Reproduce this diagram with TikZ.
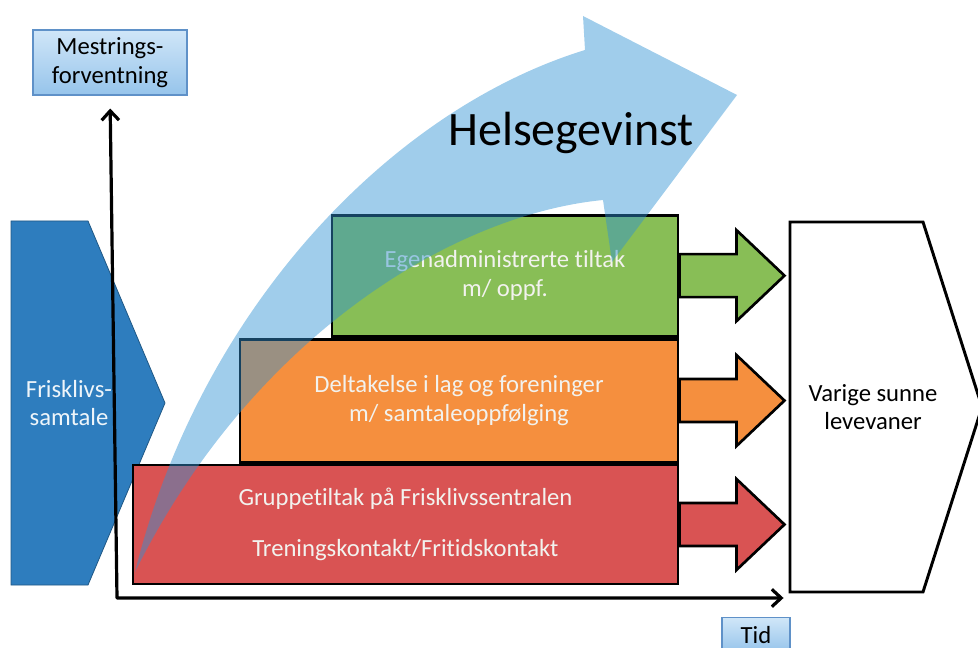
\documentclass[tikz,border=0pt]{standalone}
\usepackage{fontspec}
\setmainfont{Carlito}[Ligatures=NoCommon]
\usetikzlibrary{positioning,calc,arrows.meta}
\definecolor{frblue}{RGB}{46,125,190}
\definecolor{rbar}{RGB}{217,83,83}
\definecolor{obar}{RGB}{245,143,62}
\definecolor{gbar}{RGB}{136,190,86}
\definecolor{bartext}{RGB}{242,242,238}
\definecolor{gainblue}{RGB}{48,146,211}
\definecolor{lbltop}{RGB}{208,230,248}
\definecolor{lblbot}{RGB}{150,196,235}
\definecolor{lblborder}{RGB}{95,145,200}

\begin{document}
\begin{tikzpicture}[
    x=0.75pt, y=-0.75pt,
    every node/.style={font=\fontsize{18.5}{21.5}\selectfont},
    bar/.style={rectangle, draw=black, line width=2.2pt, text=bartext, align=center, inner sep=0pt},
    labelbox/.style={rectangle, draw=lblborder, line width=0.8pt, top color=lbltop, bottom color=lblbot, align=center},
    axis/.style={line width=2.4pt, line join=round, {Straight Barb[length=7pt,width=13pt]}-{Straight Barb[length=7pt,width=13pt]}},
    fatarrow/.style={draw=black, line width=2pt},
    gain/.style={fill=gainblue, fill opacity=0.46},
]
\useasboundingbox (0,0) rectangle (978,648);

% start and end
\draw[fill=frblue, draw=frblue!70!black, line width=0.6pt] (11,221) -- (88,221) -- (165,403) -- (88,585) -- (11,585) -- cycle;
\node[text=white!92!frblue, align=center] (fsamt) at (69,403) {Frisklivs-\\samtale};
\draw[fill=white, line width=2.2pt] (790,222) -- (923,222) -- (982,407) -- (923,592) -- (790,592) -- cycle;
\node[align=center] (varige) at (873,407) {Varige sunne\\levevaner};

% stacked tiltak
\node[bar, fill=rbar, minimum width=408.75pt, minimum height=89.25pt] (rbox) at (405.5,524.5) {Gruppetiltak på Frisklivssentralen\\[17pt]Treningskontakt/Fritidskontakt};
\node[bar, fill=obar, minimum width=328.5pt, minimum height=92.25pt, anchor=south east] (obox) at (rbox.north east) {Deltakelse i lag og foreninger\\m/ samtaleoppfølging};
\node[bar, fill=gbar, minimum width=259.5pt, minimum height=90.75pt, anchor=south east] (gbox) at (obox.north east) {Egenadministrerte tiltak\\m/ oppf.};
\foreach \b/\c in {gbox/gbar, obox/obar, rbox/rbar}
  \draw[fatarrow, fill=\c] ($(\b.east)+(0,-21.5)$) -- ++(57,0) -- ++(0,-24) -- ++(48,45.5) -- ++(-48,45.5) -- ++(0,-24) -- ++(-57,0) -- cycle;

% Helsegevinst
\path[gain] (135,572) .. controls (200,310) and (390,110) .. (585,50) -- (583,16) -- (737,95) -- (612,262) -- (603,200) .. controls (450,215) and (250,340) .. (135,572) -- cycle;
\node[font=\fontsize{36}{42}\selectfont] (gain) at (571,133) {Helsegevinst};

% axes
\node[labelbox, minimum width=115.5pt, minimum height=48.75pt] (mestr) at (110,62.5) {Mestrings-\\forventning};
\node[labelbox, minimum width=51pt, minimum height=26pt, anchor=north] (tid) at (756,617) {Tid};
\coordinate (origin) at (117,598);
\draw[axis, shorten <=9.75pt, shorten >=5.25pt] (mestr.south) -- (origin) -- (origin -| tid.east);
\end{tikzpicture}
\end{document}
